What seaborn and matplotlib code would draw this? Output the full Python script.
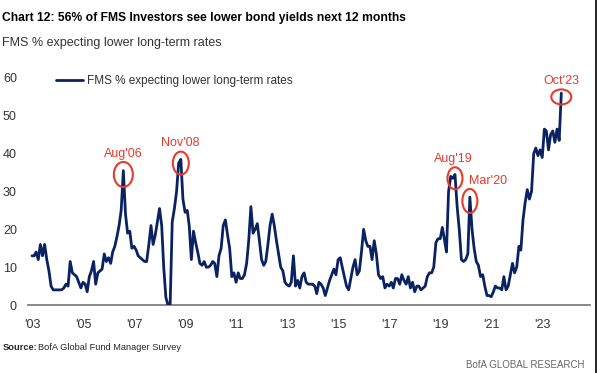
import numpy as np
import pandas as pd
import seaborn as sns
import matplotlib.pyplot as plt
import matplotlib.dates as mdates
from matplotlib.patches import Ellipse
from matplotlib.lines import Line2D

# monthly FMS readings, Jan 2003 .. Oct 2023 (% expecting lower long-term rates)
y2003 = [13, 13, 14, 12, 16, 13, 16, 12, 9, 5, 4, 4]
y2004 = [4, 4, 4, 4.5, 5.5, 5, 11.5, 8.5, 8, 7.5, 6, 4.5]
y2005 = [6, 5.5, 3.5, 7.5, 9, 11.5, 5.5, 8.5, 9, 9.5, 13.5, 11.5]
y2006 = [12.5, 11, 14, 15.5, 18, 21, 25, 35.5, 24, 19, 19.5, 15]
y2007 = [15.5, 14.5, 13, 12.5, 12, 11.5, 11.5, 16, 21, 16, 18.5, 22]
y2008 = [25.5, 21, 10, 2, 0, 0, 22, 25.5, 30, 37.5, 38.5, 28]
y2009 = [24.5, 25, 21, 12, 19.5, 16.5, 14, 11, 10.5, 11.5, 10, 10]
y2010 = [10.5, 11.5, 11, 7.5, 13, 15, 21, 22.5, 18.5, 15, 7.5, 8.5]
y2011 = [6, 8.5, 7, 7, 8, 11, 17, 26, 19, 20, 21.5, 17]
y2012 = [12, 10.5, 11.5, 16, 21, 24, 21, 17, 13.5, 10, 9, 6]
y2013 = [5.3, 5, 6, 13, 5, 6.5, 4.5, 7.5, 8.5, 6, 5.5, 5.5]
y2014 = [5.5, 5, 3, 6, 5.5, 4.5, 2.5, 4.5, 6.5, 8, 9.5, 8]
y2015 = [12, 12.5, 10, 7.5, 5, 4, 7, 10, 12, 8, 9, 14]
y2016 = [20, 17, 15.5, 15.5, 12, 17, 13.5, 8, 7, 7.5, 4.5, 5.5]
y2017 = [5, 6, 4.5, 7, 7, 5.5, 8, 6.5, 5.5, 7.5, 4.5, 6]
y2018 = [3.5, 5, 5, 4, 4.5, 5, 7.5, 8.5, 8.5, 10, 16.5, 17.5]
y2019 = [17.5, 20.5, 17.5, 14, 30, 34, 33.5, 34.5, 26, 20, 12, 11.5]
y2020 = [12, 13.5, 28.5, 20, 15, 11.5, 10.5, 7.5, 8, 5, 2.5, 2.5]
y2021 = [2.2, 3.5, 5, 4.5, 4.5, 4, 7.5, 4, 5, 8, 11, 8.5]
y2022 = [10, 15.5, 14.5, 22.5, 27, 30.5, 28, 30, 40, 41.5, 39.5, 41]
y2023 = [39, 46.5, 46, 41, 45, 46, 43, 46.5, 43.5, 56]

series_name = "FMS % expecting lower long-term rates"
peak_months = ["2006-08", "2008-11", "2019-08", "2020-03", "2023-10"]
peak_labels = ["Aug'06", "Nov'08", "Aug'19", "Mar'20", "Oct'23"]
tick_years = [2003, 2005, 2007, 2009, 2011, 2013, 2015, 2017, 2019, 2021, 2023]
y_ticks = [0, 10, 20, 30, 40, 50, 60]

values = (y2003 + y2004 + y2005 + y2006 + y2007 + y2008 + y2009 + y2010 + y2011
          + y2012 + y2013 + y2014 + y2015 + y2016 + y2017 + y2018 + y2019
          + y2020 + y2021 + y2022 + y2023)
dates = pd.date_range("2003-01-01", periods=len(values), freq="MS")
df = pd.DataFrame({"date": dates, "value": values, "series": series_name})

NAVY = "#0b2262"
RED = "#e8392c"
GREY = "#333333"

sns.set_style("white")
plt.rcParams["font.family"] = ["Liberation Sans", "DejaVu Sans"]

fig = plt.figure(figsize=(5.97, 3.73), dpi=100)
ax = fig.add_axes([28 / 597, 68 / 373, 562 / 597, 227 / 373])

sns.lineplot(data=df, x="date", y="value", hue="series", palette=[NAVY],
             linewidth=2.0, ax=ax)

ax.set_ylim(0, 60)
ax.set_xlim(pd.Timestamp("2002-11-05"), pd.Timestamp("2024-11-15"))
ax.set_yticks(y_ticks)
ax.set_xticks([pd.Timestamp(f"{y}-01-01") for y in tick_years])
ax.xaxis.set_major_formatter(mdates.DateFormatter("'%y"))
ax.tick_params(axis="both", length=0, labelsize=9, colors=GREY)
ax.tick_params(axis="y", pad=8)
ax.tick_params(axis="x", pad=10)
ax.set_xlabel("")
ax.set_ylabel("")
for s in ["top", "right", "left"]:
    ax.spines[s].set_visible(False)
ax.spines["bottom"].set_color("#808080")
ax.spines["bottom"].set_linewidth(1.3)
ax.spines["bottom"].set_zorder(0)

leg = ax.legend(loc="upper left", bbox_to_anchor=(0.031, 1.058), frameon=False,
                fontsize=8.5, handlelength=2.3, handletextpad=0.3)
for t in leg.get_texts():
    t.set_color(GREY)

# red circles and labels around the highlighted readings
days_px = 365.25 / 25.5
val_px = 60 / 227
ell_px = [(19, 25), (16, 23), (15, 22), (15, 24), (20, 15)]
lab_dx = [0, -1, -2, 18, 0]
for month, lab, (w, h), dx in zip(peak_months, peak_labels, ell_px, lab_dx):
    d = pd.Timestamp(month + "-01")
    v = df.loc[df["date"] == d, "value"].iloc[0]
    e = Ellipse((mdates.date2num(d), v - 1), w * days_px, h * val_px,
                fill=False, edgecolor=RED, linewidth=1.5, clip_on=False, zorder=5)
    ax.add_patch(e)
    ax.annotate(lab, xy=(d, v), xytext=(dx * 0.72, h * 0.72 / 2 - 1),
                textcoords="offset points", ha="center", va="bottom",
                color=RED, fontsize=9, annotation_clip=False)

fig.text(0.003, 1 - 18 / 373, "Chart 12: 56% of FMS Investors see lower bond yields next 12 months",
         fontsize=8.7, fontweight="bold", color="black", va="center")
fig.text(0.003, 1 - 43 / 373, "FMS % expecting lower long-term rates",
         fontsize=9, color=GREY, va="center")
fig.text(0.005, 1 - 348 / 373, "Source:", fontsize=6.7, fontweight="bold", va="center")
fig.text(0.063, 1 - 348 / 373, "BofA Global Fund Manager Survey", fontsize=6.7, va="center")
fig.text(1 - 12 / 597, 1 - 365 / 373, "BofA GLOBAL RESEARCH", fontsize=7, color="#666666",
         ha="right", va="center")
fig.add_artist(Line2D([595.5 / 597, 595.5 / 597], [0, 1], color="black", linewidth=1.2))

fig.savefig("out.png", dpi=100)
